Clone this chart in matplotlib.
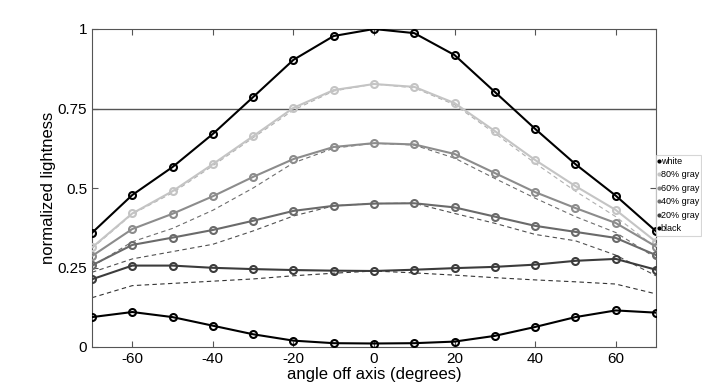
import matplotlib.pyplot as plt

plt.rcParams['font.family'] = ['Liberation Sans', 'DejaVu Sans']
plt.rcParams['axes.unicode_minus'] = False

angles = [-70, -60, -50, -40, -30, -20, -10, 0, 10, 20, 30, 40, 50, 60, 70]

labels = ["white", "80% gray", "60% gray", "40% gray", "20% gray", "black"]

white = [0.359, 0.478, 0.566, 0.670, 0.786, 0.903, 0.978, 1.0, 0.987, 0.918, 0.802, 0.686, 0.575, 0.476, 0.364]
gray80 = [0.313, 0.420, 0.490, 0.575, 0.663, 0.752, 0.808, 0.827, 0.818, 0.767, 0.679, 0.588, 0.506, 0.431, 0.331]
gray60 = [0.286, 0.371, 0.419, 0.474, 0.535, 0.591, 0.629, 0.641, 0.637, 0.607, 0.547, 0.487, 0.437, 0.390, 0.316]
gray40 = [0.257, 0.321, 0.344, 0.368, 0.397, 0.428, 0.444, 0.451, 0.452, 0.439, 0.410, 0.381, 0.362, 0.343, 0.289]
gray20 = [0.213, 0.256, 0.256, 0.249, 0.245, 0.242, 0.240, 0.239, 0.243, 0.248, 0.252, 0.259, 0.271, 0.277, 0.243]
black = [0.094, 0.110, 0.094, 0.067, 0.040, 0.020, 0.012, 0.011, 0.012, 0.017, 0.035, 0.063, 0.094, 0.115, 0.108]

# expected (dashed) curves
ref80 = [0.310, 0.418, 0.485, 0.570, 0.658, 0.745, 0.805, 0.827, 0.815, 0.762, 0.672, 0.578, 0.490, 0.410, 0.312]
ref60 = [0.253, 0.331, 0.373, 0.430, 0.500, 0.579, 0.625, 0.641, 0.635, 0.594, 0.530, 0.468, 0.410, 0.360, 0.280]
ref40 = [0.235, 0.277, 0.300, 0.323, 0.365, 0.412, 0.444, 0.451, 0.452, 0.420, 0.389, 0.354, 0.334, 0.289, 0.224]
ref20 = [0.155, 0.193, 0.200, 0.207, 0.214, 0.224, 0.232, 0.239, 0.233, 0.226, 0.218, 0.211, 0.205, 0.198, 0.167]

series = [white, gray80, gray60, gray40, gray20, black]
colors = ["#000000", "#c4c4c4", "#8c8c8c", "#6a6a6a", "#3c3c3c", "#000000"]
refs = [ref80, ref60, ref40, ref20]
ref_colors = ["#b0b0b0", "#6e6e6e", "#505050", "#333333"]

fig = plt.figure(figsize=(7.02, 3.9), dpi=100)
ax = fig.add_axes([92 / 702, 43 / 390, 564 / 702, 318 / 390])

ax.axhline(0.75, color="#555555", lw=1.0, zorder=1)

for r, c in zip(refs, ref_colors):
    ax.plot(angles, r, ls="--", color=c, lw=0.8, dashes=(4, 3), zorder=2)

handles = []
for s, c, lab in zip(series, colors, labels):
    ax.plot(angles, s, color=c, lw=1.5, marker="o", ms=5, mfc="none", mew=1.5, zorder=3)
    h, = ax.plot([], [], ls="none", marker="o", ms=2, color=c, label=lab)
    handles.append(h)

ax.set_xlim(-70, 70)
ax.set_ylim(0, 1)
ax.set_xticks([-60, -40, -20, 0, 20, 40, 60])
ax.set_yticks([0, 0.25, 0.5, 0.75, 1])
ax.set_yticklabels(["0", "0.25", "0.5", "0.75", "1"])
ax.tick_params(direction="in", top=True, right=True, labelsize=11, length=4, color="#555555")
for sp in ax.spines.values():
    sp.set_color("#555555")
ax.set_xlabel("angle off axis (degrees)", fontsize=12, labelpad=1)
ax.set_ylabel("normalized lightness", fontsize=12, labelpad=1)

leg = ax.legend(handles=handles, loc="upper left", bbox_to_anchor=(1.0, 0.605),
                fontsize=6.5, handlelength=0.15, handletextpad=0.12, borderpad=0.25,
                labelspacing=0.5, frameon=True, fancybox=False, borderaxespad=0,
                handleheight=0.6)
leg.get_frame().set_edgecolor("#cccccc")
leg.get_frame().set_linewidth(0.8)

fig.savefig("out.png", dpi=100)
